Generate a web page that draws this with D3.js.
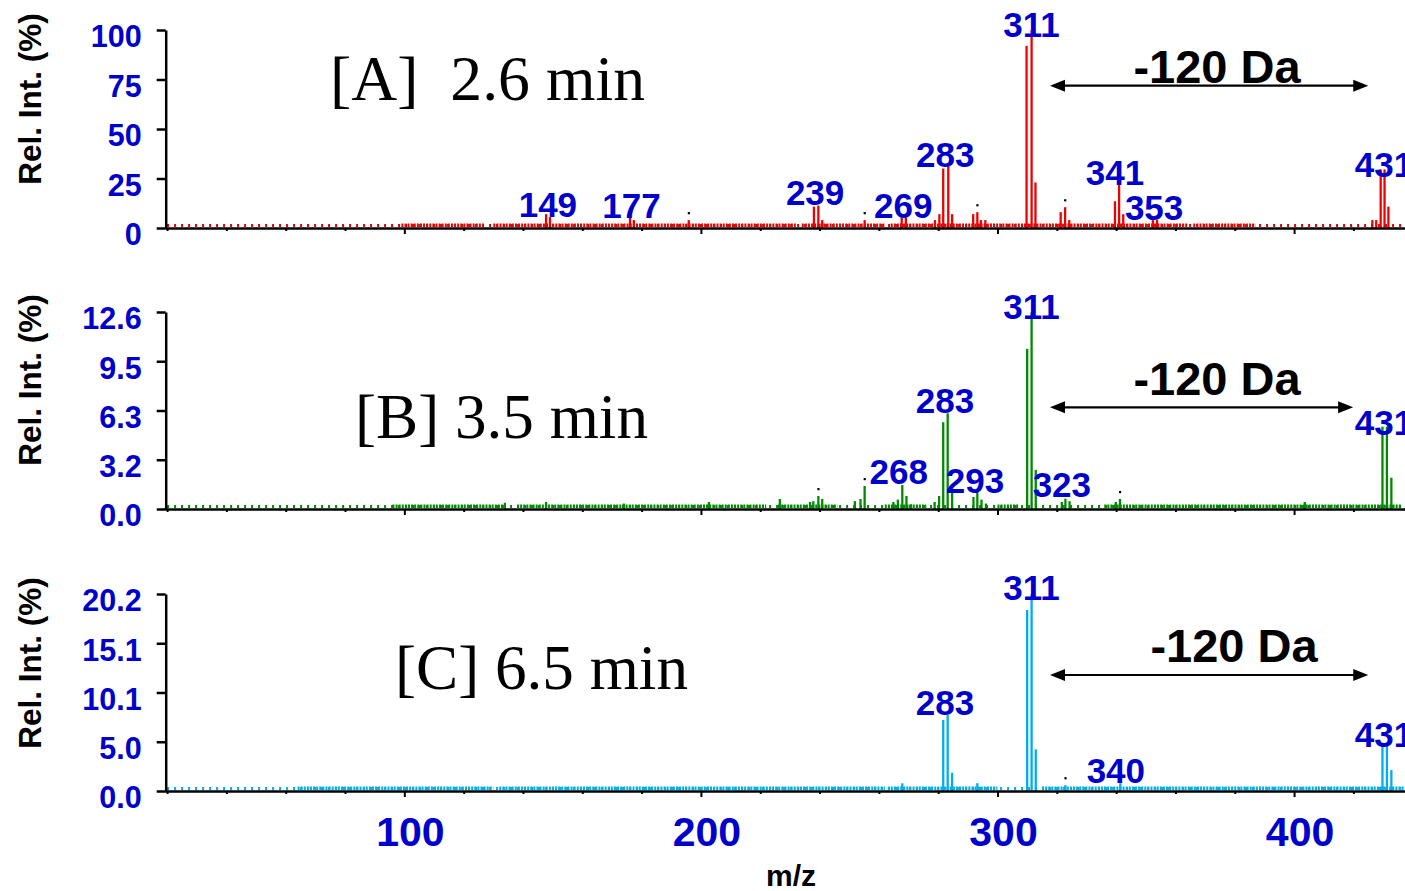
<!DOCTYPE html>
<html>
<head>
<meta charset="utf-8">
<script src="https://cdn.jsdelivr.net/npm/d3@7/dist/d3.min.js"></script>
<style>
  body { margin: 0; background: #fff; }
  svg { display: block; }
  text { font-family: "Liberation Sans", Arial, sans-serif; }
</style>
</head>
<body>
<svg id="chart" width="1405" height="891"></svg>
<script>
// ---- data ----
var mzTicks = [20, 40, 60, 80, 100, 120, 140, 160, 180, 200, 220, 240, 260, 280, 300, 320, 340, 360, 380, 400, 420];
var mzMajor = [100, 200, 300, 400];

// [A] 2.6 min
var mzA  = [147.8, 149.1, 176.1, 177.4, 195.9, 238.1, 239.6, 240.9, 255.2, 267.7, 269.1,
            278.9, 280.4, 281.7, 283.4, 284.7, 291.8, 293.2, 294.4, 295.9, 309.8, 311.5, 312.8,
            321.3, 322.8, 324.2, 339.6, 341.0, 342.4, 352.4, 353.8, 426.4, 427.7, 429.2, 430.5, 431.8];
var intA = [7, 5.5, 5.4, 4, 4, 10.8, 11.3, 4, 4, 5.4, 5.4,
            4, 7, 30, 31.5, 7, 7, 8, 4, 4, 92, 100, 23,
            8, 10.5, 4, 13.5, 21.7, 7, 4, 4, 4, 4, 29.6, 29.6, 10.8];
var dotsA = [195.9, 255.2, 293.2, 322.8];
var labelsA   = ["149", "177", "239", "269", "283", "311", "341", "353", "431"];
var labelMzA  = [148.4, 176.6, 238.5, 268.2, 282.4, 311.5, 339.6, 352.8, 430.3];
var labelIntA = [5.7, 4.9, 11.6, 4.9, 31, 96.3, 21.7, 4, 25.9];
var yTicksA = [0, 25, 50, 75, 100];
var yTickLabelsA = ["0", "25", "50", "75", "100"];
var noiseA  = [[99, 127], [130, 232], [234, 262], [264, 364], [366, 387]];

// [B] 3.5 min
var mzB  = [133.9, 147.8, 174.0, 202.7, 226.6, 236.8, 237.9, 239.6, 240.9, 251.9, 253.8, 255.2,
            264.9, 266.4, 267.9, 269.3, 270.8, 278.8, 280.3, 281.7, 283.2, 284.7,
            291.9, 293.2, 294.6, 296.1, 310.0, 311.5, 312.9, 321.7, 322.9, 324.3,
            339.9, 341.3, 403.6, 429.8, 431.3, 432.8];
var intB = [0.4, 0.45, 0.35, 0.45, 0.64, 0.45, 0.5, 0.83, 0.64, 0.5, 0.64, 1.47,
            0.45, 0.6, 1.53, 0.83, 0.3, 0.45, 0.83, 5.55, 6.12, 1.07,
            0.77, 1.11, 0.6, 0.35, 10.24, 12.58, 2.5, 0.45, 0.66, 0.5,
            0.45, 0.64, 0.45, 5.27, 5.27, 2.0];
var dotsB = [239.6, 255.2, 341.3];
var labelsB   = ["268", "283", "293", "311", "323", "431"];
var labelMzB  = [266.7, 282.3, 292.4, 311.5, 321.7, 430.3];
var labelIntB = [1.6, 6.14, 1.04, 12.13, 0.77, 4.73];
var yTicksB = [0, 3.15, 6.3, 9.45, 12.6];
var yTickLabelsB = ["0.0", "3.2", "6.3", "9.5", "12.6"];
var noiseB  = [[96, 134], [138, 222], [226, 246], [262, 276], [300, 307], [336, 436]];

// [C] 6.5 min
var mzC  = [267.9, 281.7, 283.2, 284.7, 293.2, 310.0, 311.5, 312.9, 322.9, 341.4, 429.8, 431.3, 432.8];
var intC = [0.79, 7.28, 7.8, 1.88, 0.8, 18.56, 20.2, 4.27, 0.6, 0.8, 4.95, 4.95, 2.15];
var dotsC = [322.9];
var labelsC   = ["283", "311", "340", "431"];
var labelMzC  = [282.3, 311.5, 339.9, 430.3];
var labelIntC = [7.8, 19.6, 0.85, 4.54];
var yTicksC = [0, 5.05, 10.1, 15.15, 20.2];
var yTickLabelsC = ["0.0", "5.0", "10.1", "15.1", "20.2"];
var noiseC  = [[64, 130], [132, 262], [263, 300], [315, 437]];

// -120 Da arrows (m/z from, to)
var arrowFrom = [317.7, 317.7, 317.7];
var arrowTo   = [425.0, 419.9, 425.0];

// ---- layout ----
var BLUE = "#0000cc";
var svg = d3.select("#chart");
var x = d3.scaleLinear().domain([19.3, 437.4]).range([165, 1405]);

var panels = [
  { mz: mzA, ints: intA, dots: dotsA, labels: labelsA, labelMz: labelMzA, labelInt: labelIntA,
    yMax: 100, yTicks: yTicksA, yTickLabels: yTickLabelsA, noise: noiseA,
    color: "#ee0000", top: 30, base: 228, title: "[A]\u00a0\u00a02.6 min", titleX: 330, titleY: 100,
    arrowY: 85.7, daX: 1217, daY: 83, axisLabelY: 99 },
  { mz: mzB, ints: intB, dots: dotsB, labels: labelsB, labelMz: labelMzB, labelInt: labelIntB,
    yMax: 12.6, yTicks: yTicksB, yTickLabels: yTickLabelsB, noise: noiseB,
    color: "#008a00", top: 312, base: 509, title: "[B] 3.5 min", titleX: 355, titleY: 438,
    arrowY: 407.3, daX: 1217, daY: 395, axisLabelY: 380 },
  { mz: mzC, ints: intC, dots: dotsC, labels: labelsC, labelMz: labelMzC, labelInt: labelIntC,
    yMax: 20.2, yTicks: yTicksC, yTickLabels: yTickLabelsC, noise: noiseC,
    color: "#00aeef", top: 594, base: 791, title: "[C] 6.5 min", titleX: 395, titleY: 689,
    arrowY: 675, daX: 1234, daY: 662, axisLabelY: 663 }
];

panels.forEach(function(p, pi) {
  var y = d3.scaleLinear().domain([0, p.yMax]).range([p.base, p.top]);
  var g = svg.append("g");

  // baseline noise: sparse along the whole axis, denser stretches on top
  g.append("line")
    .attr("x1", x(20)).attr("x2", x(437))
    .attr("y1", p.base - 2.5).attr("y2", p.base - 2.5)
    .attr("stroke", p.color).attr("stroke-width", 3)
    .attr("stroke-dasharray", "2,5");
  g.selectAll(".noise").data(p.noise).enter().append("line")
    .attr("x1", function(d){ return x(d[0]); })
    .attr("x2", function(d){ return x(d[1]); })
    .attr("y1", p.base - 2.8).attr("y2", p.base - 2.8)
    .attr("stroke", p.color).attr("stroke-width", 3.5)
    .attr("stroke-dasharray", "2,1.1");

  // peaks
  g.selectAll(".bar").data(p.mz).enter().append("line")
    .attr("x1", function(d){ return x(d); })
    .attr("x2", function(d){ return x(d); })
    .attr("y1", p.base)
    .attr("y2", function(d, i){ return y(p.ints[i]); })
    .attr("stroke", p.color).attr("stroke-width", 2.3);

  // little marker dots above some peaks
  g.selectAll(".dot").data(p.dots).enter().append("rect")
    .attr("x", function(d){ return x(d) - 1; })
    .attr("y", function(d){ return y(p.ints[p.mz.indexOf(d)]) - 8; })
    .attr("width", 2.2).attr("height", 2.2)
    .attr("fill", "#000");

  // y axis
  var ya = g.append("g").attr("transform", "translate(165.7,0)")
    .call(d3.axisLeft(y).tickValues(p.yTicks)
      .tickFormat(function(d, i){ return p.yTickLabels[i]; })
      .tickSize(9).tickSizeOuter(0));
  ya.select(".domain").attr("stroke-width", 2.5);
  ya.selectAll(".tick line").attr("stroke-width", 2.5);
  ya.selectAll(".tick text")
    .attr("x", -24).attr("y", 6).attr("dy", "0.36em")
    .attr("fill", BLUE)
    .style("font-size", "30.5px").style("font-weight", "bold")
    .style("font-family", "'Liberation Sans', Arial, sans-serif");

  // x axis
  var xa = g.append("g").attr("transform", "translate(0," + p.base + ")")
    .call(d3.axisBottom(x).tickValues(mzTicks).tickFormat("").tickSize(3).tickSizeOuter(0));
  xa.select(".domain").attr("stroke-width", 2.5);
  xa.selectAll(".tick line").attr("stroke-width", 2)
    .attr("y2", function(d){ return mzMajor.indexOf(d) >= 0 ? 6 : 3; });

  // axis title
  g.append("text")
    .attr("transform", "translate(41," + p.axisLabelY + ") rotate(-90)")
    .attr("text-anchor", "middle")
    .style("font-size", "31.5px").style("font-weight", "bold")
    .text("Rel. Int. (%)");

  // peak labels
  g.selectAll(".plabel").data(p.labels).enter().append("text")
    .attr("x", function(d, i){ return x(p.labelMz[i]); })
    .attr("y", function(d, i){ return y(p.labelInt[i]); })
    .attr("text-anchor", "middle")
    .attr("fill", BLUE)
    .style("font-size", "35px").style("font-weight", "bold")
    .text(function(d){ return d; });

  // panel title
  g.append("text")
    .attr("x", p.titleX).attr("y", p.titleY)
    .style("font-family", "'Liberation Serif', 'Times New Roman', serif")
    .style("font-size", "64px")
    .attr("textLength", pi === 0 ? 315 : 293)
    .attr("lengthAdjust", "spacingAndGlyphs")
    .text(p.title);

  // -120 Da annotation
  var x0 = x(arrowFrom[pi]), x1 = x(arrowTo[pi]), ay = p.arrowY;
  g.append("line")
    .attr("x1", x0 + 10).attr("x2", x1 - 10)
    .attr("y1", ay).attr("y2", ay)
    .attr("stroke", "#000").attr("stroke-width", 2.2);
  g.append("path")
    .attr("d", "M" + x0 + "," + ay + "L" + (x0 + 15) + "," + (ay - 6) + "L" + (x0 + 15) + "," + (ay + 6) + "Z")
    .attr("fill", "#000");
  g.append("path")
    .attr("d", "M" + x1 + "," + ay + "L" + (x1 - 15) + "," + (ay - 6) + "L" + (x1 - 15) + "," + (ay + 6) + "Z")
    .attr("fill", "#000");
  g.append("text")
    .attr("x", p.daX).attr("y", p.daY)
    .attr("text-anchor", "middle")
    .style("font-size", "47px").style("font-weight", "bold")
    .text("-120 Da");
});

// bottom m/z labels
svg.selectAll(".mzlab").data(mzMajor).enter().append("text")
  .attr("x", function(d){ return x(d) + 6; })
  .attr("y", 846)
  .attr("text-anchor", "middle")
  .attr("fill", BLUE)
  .style("font-size", "41px").style("font-weight", "bold")
  .text(function(d){ return d; });

svg.append("text")
  .attr("x", 791).attr("y", 886)
  .attr("text-anchor", "middle")
  .style("font-size", "30px").style("font-weight", "bold")
  .text("m/z");
</script>
</body>
</html>
